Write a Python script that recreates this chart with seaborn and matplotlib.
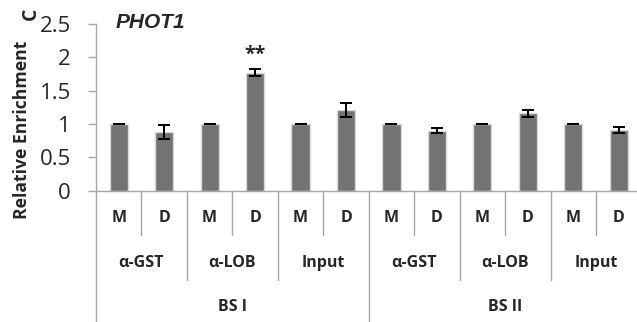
import numpy as np
import pandas as pd
import seaborn as sns
import matplotlib
matplotlib.use("Agg")
import matplotlib.pyplot as plt
from matplotlib.transforms import blended_transform_factory

# ---- data ----
sites = ["BS I", "BS II"]
antibodies = ["α-GST", "α-LOB", "Input"]
conditions = ["M", "D"]
values = [1.00, 0.88, 1.00, 1.77, 1.00, 1.21, 1.00, 0.90, 1.00, 1.16, 1.00, 0.91]
errors = [0.0, 0.11, 0.0, 0.05, 0.0, 0.10, 0.0, 0.04, 0.0, 0.055, 0.0, 0.045]
y_ticks = [0, 0.5, 1, 1.5, 2, 2.5]
title = "PHOT1"
ylabel = "Relative Enrichment"
panel = "C"
signif_index = 3
signif_mark = "**"

rows = []
for s in sites:
    for a in antibodies:
        for c in conditions:
            rows.append((s, a, c))
df = pd.DataFrame(rows, columns=["site", "antibody", "condition"])
df["key"] = df["site"] + "|" + df["antibody"] + "|" + df["condition"]
df["value"] = values
df["err"] = errors

sns.set_style("white")
plt.rcParams["font.family"] = ["Open Sans", "DejaVu Sans"]

W, H = 637, 322
fig = plt.figure(figsize=(W / 100, H / 100), dpi=100)
ax = fig.add_axes([96 / W, 1 - 190.7 / H, 545.5 / W, 166.7 / H])

gray_line = "#A6A6A6"
sns.barplot(data=df, x="key", y="value", order=list(df["key"]), color="#737373",
            width=0.4, edgecolor="#D9D9D9", linewidth=1, errorbar=None,
            saturation=1, ax=ax)
pos = np.arange(len(df))
ax.errorbar(pos, df["value"], yerr=df["err"], fmt="none", ecolor="black",
            elinewidth=1.4, capsize=4, capthick=1.4, zorder=5)

ax.set_xlim(-0.5, len(df) - 0.5)
ax.set_ylim(0, 2.5)
ax.set_yticks(y_ticks)
ax.set_yticklabels([f"{v:g}" for v in y_ticks])
ax.set_xticks([])
ax.set_xlabel("")
ax.set_ylabel("")
ax.tick_params(axis="y", length=6, width=1, color=gray_line, pad=12,
               labelsize=16, left=True)
for side in ["top", "right"]:
    ax.spines[side].set_visible(False)
for side in ["left", "bottom"]:
    ax.spines[side].set_color(gray_line)
    ax.spines[side].set_linewidth(1)

# ---- multi-level category axis ----
tr = blended_transform_factory(ax.transData, ax.transAxes)
lvl1, lvl2, lvl3 = -0.266, -0.536, -0.85
n = len(df)
ax.plot([-0.5, -0.5], [0, lvl3], transform=tr, color=gray_line, lw=1, clip_on=False)
for i in range(n - 1):
    x = i + 0.5
    if (i + 1) % 6 == 0:
        bottom = lvl3
    elif (i + 1) % 2 == 0:
        bottom = lvl2
    else:
        bottom = lvl1
    ax.plot([x, x], [0, bottom], transform=tr, color=gray_line, lw=1, clip_on=False)

lab_kw = dict(transform=tr, ha="center", va="center", fontweight="bold",
              fontsize=11.5, clip_on=False)
for i, c in enumerate(df["condition"]):
    ax.text(i, -0.164, c, **lab_kw)
for k in range(n // 2):
    ax.text(2 * k + 0.5, -0.433, df["antibody"].iloc[2 * k], **lab_kw)
for j, s in enumerate(sites):
    ax.text(6 * j + 2.5, -0.70, s, **lab_kw)

# significance mark
ax.text(signif_index, values[signif_index] + errors[signif_index] + 0.22, signif_mark,
        ha="center", va="center", fontsize=14, fontweight="bold")

# titles / labels
fig.text(116 / W, 1 - 23 / H, title, fontstyle="italic", fontweight="bold",
         fontsize=15, ha="left", va="center", family=["Liberation Sans"])
fig.text(22 / W, 1 - 130 / H, ylabel, rotation=90, fontweight="bold",
         fontsize=12.6, ha="center", va="center")
fig.text(31 / W, 1 - 14 / H, panel, rotation=90, fontweight="bold",
         fontsize=14, ha="center", va="center")

fig.savefig("out.png", dpi=100)
